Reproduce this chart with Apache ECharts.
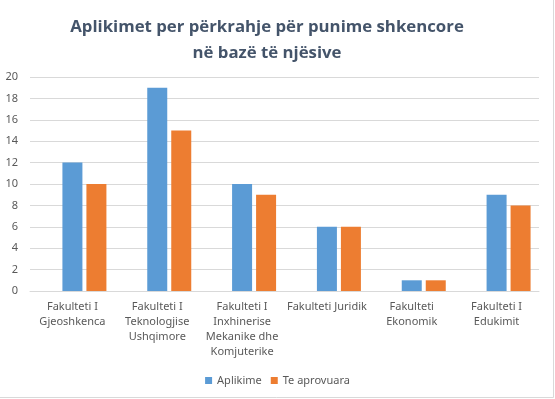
<!DOCTYPE html>
<html>
<head>
<meta charset="utf-8">
<script src="https://cdn.jsdelivr.net/npm/echarts@6/dist/echarts.min.js"></script>
<style>html,body{margin:0;padding:0;background:#fff}#c{width:555px;height:399px}</style>
</head>
<body>
<div id="c"></div>
<script>
const titleText = "Aplikimet per përkrahje për punime shkencore\nnë bazë të njësive";
const categories = [
  "Fakulteti I\nGjeoshkenca",
  "Fakulteti I\nTeknologjise\nUshqimore",
  "Fakulteti I\nInxhinerise\nMekanike dhe\nKomjuterike",
  "Fakulteti Juridik",
  "Fakulteti\nEkonomik",
  "Fakulteti I\nEdukimit"
];
const aplikime = [12, 19, 10, 6, 1, 9];
const teAprovuara = [10, 15, 9, 6, 1, 8];
const emptySeries = [null, null, null, null, null, null];

const chart = echarts.init(document.getElementById('c'), null, {renderer: 'canvas'});
chart.setOption({
  animation: false,
  backgroundColor: '#ffffff',
  title: {
    text: titleText,
    left: 262,
    top: 9,
    textAlign: 'center',
    textStyle: {fontFamily: 'Open Sans', fontWeight: 'bold', fontSize: 16.8, lineHeight: 26, color: '#44546a', align: 'center'}
  },
  legend: {
    data: ['Aplikime', 'Te aprovuara'],
    left: 'center',
    top: 370,
    icon: 'rect',
    itemWidth: 7,
    itemHeight: 7,
    itemGap: 9,
    textStyle: {fontFamily: 'Noto Sans', fontSize: 11, color: '#595959'}
  },
  grid: {left: 30, right: 16, top: 77, bottom: 108, containLabel: false},
  xAxis: {
    type: 'category',
    data: categories,
    axisLine: {lineStyle: {color: '#d9d9d9'}},
    axisTick: {show: false},
    axisLabel: {interval: 0, margin: 8, lineHeight: 15, fontFamily: 'Noto Sans', fontSize: 11, color: '#595959'}
  },
  yAxis: {
    type: 'value',
    min: 0, max: 20, interval: 2,
    axisLine: {show: false},
    axisTick: {show: false},
    splitLine: {lineStyle: {color: '#d9d9d9'}},
    axisLabel: {margin: 12, fontFamily: 'Noto Sans', fontSize: 11, color: '#595959'}
  },
  series: [
    {name: '', type: 'bar', data: emptySeries, barWidth: 20, barGap: '20%', silent: true},
    {name: 'Aplikime', type: 'bar', data: aplikime, barWidth: 20, barGap: '20%', itemStyle: {color: '#5b9bd5'}},
    {name: 'Te aprovuara', type: 'bar', data: teAprovuara, barWidth: 20, barGap: '20%', itemStyle: {color: '#ed7d31'}}
  ],
  graphic: [{
    type: 'rect',
    shape: {x: -1, y: -1, width: 554.5, height: 398.5},
    style: {fill: 'none', stroke: '#d9d9d9', lineWidth: 1},
    silent: true
  }]
});
</script>
</body>
</html>
